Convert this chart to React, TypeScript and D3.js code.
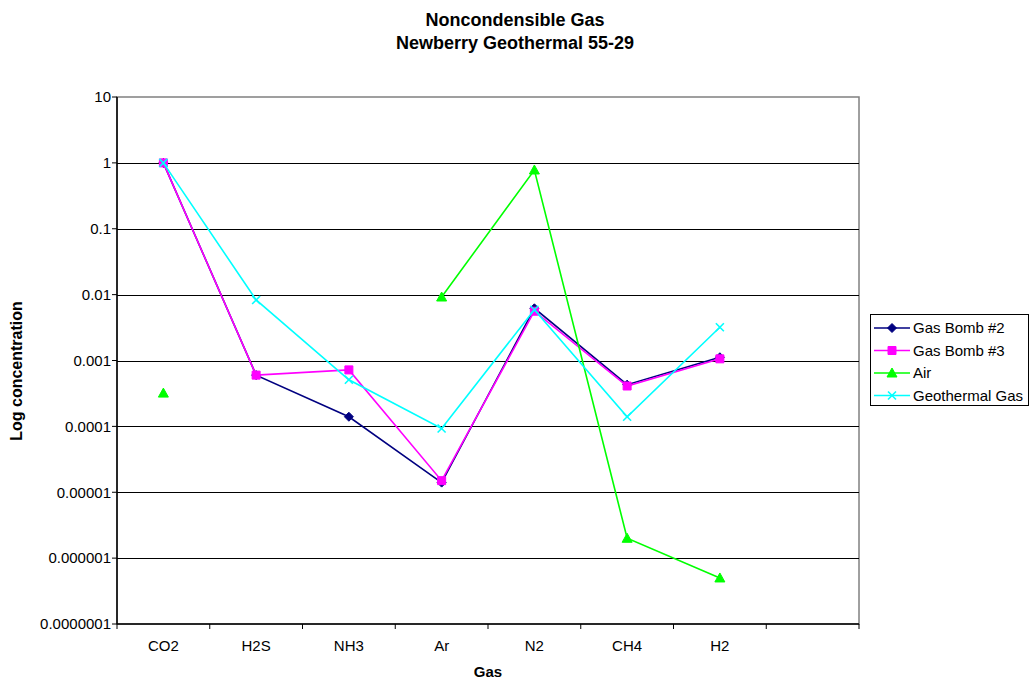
import { useEffect, useRef } from 'react'
import * as d3 from 'd3'

const categories = ['CO2', 'H2S', 'NH3', 'Ar', 'N2', 'CH4', 'H2', '']
const gasBomb2 = [1, 0.0006, 0.00014, 0.000014, 0.0062, 0.00043, 0.00112]
const gasBomb3 = [1, 0.0006, 0.00072, 0.000015, 0.0056, 0.00041, 0.00106]
const air: (number | null)[] = [0.00032, null, null, 0.0092, 0.78, 0.000002, 0.0000005]
const geothermal = [1, 0.0083, 0.00051, 0.000093, 0.0059, 0.00014, 0.0032]
const yTicks = [10, 1, 0.1, 0.01, 0.001, 0.0001, 0.00001, 0.000001, 0.0000001]
const yTickLabels = ['10', '1', '0.1', '0.01', '0.001', '0.0001', '0.00001', '0.000001', '0.0000001']

const seriesNames = ['Gas Bomb #2', 'Gas Bomb #3', 'Air', 'Geothermal Gas']
const seriesColors = ['#000080', '#ff00ff', '#00ff00', '#00ffff']
const seriesMarkers = ['diamond', 'square', 'triangle', 'x']

const FONT = 'Liberation Sans, Arial, sans-serif'

function markerPath(kind: string) {
  if (kind === 'diamond') return 'M0,-4.5L4.5,0L0,4.5L-4.5,0Z'
  if (kind === 'square') return 'M-4,-4H4V4H-4Z'
  if (kind === 'triangle') return 'M0,-5L5,4L-5,4Z'
  return 'M-4,-4L4,4M4,-4L-4,4'
}

export default function App() {
  const svgRef = useRef<SVGSVGElement>(null)

  useEffect(() => {
    if (!svgRef.current) return
    const svg = d3.select(svgRef.current)
    svg.selectAll('*').remove()

    const left = 117, right = 859, top = 97, bottom = 624

    const x = d3.scaleBand<string>()
      .domain(categories.map((c, i) => c + '#' + i))
      .range([left, right])
    const xPos = (i: number) => x(categories[i] + '#' + i)! + x.bandwidth() / 2

    const y = d3.scaleLog().domain([1e-7, 10]).range([bottom, top])

    svg.append('rect')
      .attr('width', 1031).attr('height', 679).attr('fill', 'white')

    // title
    const title = svg.append('text')
      .attr('x', 515)
      .attr('text-anchor', 'middle')
      .style('font-family', FONT)
      .style('font-weight', 'bold')
      .style('font-size', '18px')
    title.append('tspan').attr('x', 515).attr('y', 26).text('Noncondensible Gas')
    title.append('tspan').attr('x', 515).attr('y', 49).text('Newberry Geothermal 55-29')

    // plot border
    svg.append('rect')
      .attr('x', left).attr('y', top)
      .attr('width', right - left).attr('height', bottom - top)
      .attr('fill', 'none').attr('stroke', '#808080').attr('stroke-width', 1.5)

    // gridlines
    svg.append('g')
      .selectAll('line')
      .data(yTicks.slice(1, -1))
      .join('line')
      .attr('x1', left).attr('x2', right)
      .attr('y1', d => Math.round(y(d)) + 0.5).attr('y2', d => Math.round(y(d)) + 0.5)
      .attr('stroke', '#000').attr('stroke-width', 1)

    // y axis
    svg.append('line')
      .attr('x1', left).attr('x2', left).attr('y1', top).attr('y2', bottom)
      .attr('stroke', '#000').attr('stroke-width', 1.5)
    const yAxis = svg.append('g')
    yAxis.selectAll('line')
      .data(yTicks)
      .join('line')
      .attr('x1', left - 5).attr('x2', left)
      .attr('y1', d => y(d)).attr('y2', d => y(d))
      .attr('stroke', '#000')
    yAxis.selectAll('text')
      .data(yTicks)
      .join('text')
      .attr('x', left - 6)
      .attr('y', d => y(d))
      .attr('dy', '0.35em')
      .attr('text-anchor', 'end')
      .style('font-family', FONT)
      .style('font-size', '15px')
      .text((d, i) => yTickLabels[i])

    // x axis
    svg.append('line')
      .attr('x1', left).attr('x2', right).attr('y1', bottom).attr('y2', bottom)
      .attr('stroke', '#000').attr('stroke-width', 1.5)
    const xAxis = svg.append('g')
    xAxis.selectAll('line')
      .data(d3.range(categories.length + 1))
      .join('line')
      .attr('x1', i => left + i * x.step()).attr('x2', i => left + i * x.step())
      .attr('y1', bottom).attr('y2', bottom + 5)
      .attr('stroke', '#000')
    xAxis.selectAll('text')
      .data(categories)
      .join('text')
      .attr('x', (d, i) => xPos(i))
      .attr('y', bottom + 22)
      .attr('dy', '0.35em')
      .attr('text-anchor', 'middle')
      .style('font-family', FONT)
      .style('font-size', '15px')
      .text(d => d)

    // axis titles
    svg.append('text')
      .attr('x', (left + right) / 2)
      .attr('y', 677)
      .attr('text-anchor', 'middle')
      .style('font-family', FONT)
      .style('font-weight', 'bold')
      .style('font-size', '15px')
      .text('Gas')

    svg.append('text')
      .attr('transform', 'translate(22,371) rotate(-90)')
      .attr('text-anchor', 'middle')
      .style('font-family', FONT)
      .style('font-weight', 'bold')
      .style('font-size', '16px')
      .text('Log concentration')

    // series
    const allSeries = [gasBomb2, gasBomb3, air, geothermal]
    const line = d3.line<number | null>()
      .defined(d => d != null)
      .x((d, i) => xPos(i))
      .y(d => y(d as number))

    allSeries.forEach((values, si) => {
      const color = seriesColors[si]
      svg.append('path')
        .datum(values as (number | null)[])
        .attr('fill', 'none')
        .attr('stroke', color)
        .attr('stroke-width', 1.6)
        .attr('d', line)

      const pts = (values as (number | null)[])
        .map((v, i) => ({ v, i }))
        .filter(p => p.v != null)
      svg.append('g')
        .selectAll('path')
        .data(pts)
        .join('path')
        .attr('transform', p => `translate(${xPos(p.i)},${y(p.v as number)})`)
        .attr('d', markerPath(seriesMarkers[si]))
        .attr('fill', seriesMarkers[si] === 'x' ? 'none' : color)
        .attr('stroke', color)
        .attr('stroke-width', seriesMarkers[si] === 'x' ? 1.6 : 1)
    })

    // legend
    const legend = svg.append('g')
    legend.append('rect')
      .attr('x', 870.5).attr('y', 314.5)
      .attr('width', 158).attr('height', 91)
      .attr('fill', 'white').attr('stroke', '#000')
    seriesNames.forEach((name, i) => {
      const ly = 328 + i * 22.5
      legend.append('line')
        .attr('x1', 874).attr('x2', 910).attr('y1', ly).attr('y2', ly)
        .attr('stroke', seriesColors[i]).attr('stroke-width', 1.6)
      legend.append('path')
        .attr('transform', `translate(892,${ly})`)
        .attr('d', markerPath(seriesMarkers[i]))
        .attr('fill', seriesMarkers[i] === 'x' ? 'none' : seriesColors[i])
        .attr('stroke', seriesColors[i])
        .attr('stroke-width', seriesMarkers[i] === 'x' ? 1.6 : 1)
      legend.append('text')
        .attr('x', 913).attr('y', ly)
        .attr('dy', '0.35em')
        .style('font-family', FONT)
        .style('font-size', '15px')
        .text(name)
    })
  }, [])

  return (
    <svg
      ref={svgRef}
      width={1031}
      height={679}
      style={{ position: 'absolute', left: 0, top: 0, display: 'block' }}
    />
  )
}
